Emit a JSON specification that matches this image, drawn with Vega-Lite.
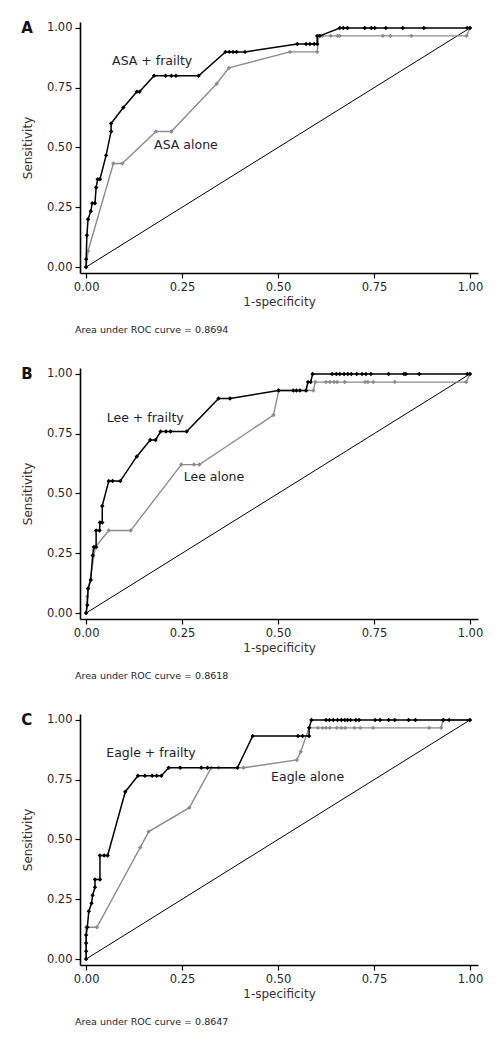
{
"$schema": "https://vega.github.io/schema/vega-lite/v6.json",
"background": "white",
"padding": {"left": 21, "top": 20, "right": 5, "bottom": 5},
"bounds": "flush",
"spacing": 95,
"config": {
  "font": "DejaVu Sans",
  "view": {"stroke": null},
  "axis": {"grid": false, "domainColor": "#000000", "domainWidth": 1.6, "tickColor": "#000000", "tickWidth": 1.2, "tickSize": 5, "labelFont": "DejaVu Sans", "labelFontSize": 11.5, "labelColor": "#262633", "labelPadding": 3, "titleFont": "DejaVu Sans", "titleFontSize": 12, "titleFontWeight": "normal", "titleColor": "#3a2f33"},
  "axisY": {"titlePadding": 12, "labelAngle": 0},
  "axisX": {"titlePadding": 4}
},
"datasets": {
  "roc": [
    {"panel":"A","curve":"frailty","x":0,"y":0},{"panel":"A","curve":"frailty","x":0,"y":0.033},{"panel":"A","curve":"frailty","x":0.002,"y":0.133},{"panel":"A","curve":"frailty","x":0.005,"y":0.2},{"panel":"A","curve":"frailty","x":0.012,"y":0.233},{"panel":"A","curve":"frailty","x":0.016,"y":0.267},{"panel":"A","curve":"frailty","x":0.023,"y":0.267},{"panel":"A","curve":"frailty","x":0.026,"y":0.333},{"panel":"A","curve":"frailty","x":0.03,"y":0.367},{"panel":"A","curve":"frailty","x":0.036,"y":0.367},{"panel":"A","curve":"frailty","x":0.052,"y":0.467},{"panel":"A","curve":"frailty","x":0.065,"y":0.567},{"panel":"A","curve":"frailty","x":0.065,"y":0.6},{"panel":"A","curve":"frailty","x":0.097,"y":0.667},{"panel":"A","curve":"frailty","x":0.132,"y":0.733},{"panel":"A","curve":"frailty","x":0.139,"y":0.733},{"panel":"A","curve":"frailty","x":0.177,"y":0.8},{"panel":"A","curve":"frailty","x":0.207,"y":0.8},{"panel":"A","curve":"frailty","x":0.222,"y":0.8},{"panel":"A","curve":"frailty","x":0.234,"y":0.8},{"panel":"A","curve":"frailty","x":0.293,"y":0.8},{"panel":"A","curve":"frailty","x":0.363,"y":0.9},{"panel":"A","curve":"frailty","x":0.373,"y":0.9},{"panel":"A","curve":"frailty","x":0.383,"y":0.9},{"panel":"A","curve":"frailty","x":0.392,"y":0.9},{"panel":"A","curve":"frailty","x":0.414,"y":0.9},{"panel":"A","curve":"frailty","x":0.55,"y":0.933},{"panel":"A","curve":"frailty","x":0.573,"y":0.933},{"panel":"A","curve":"frailty","x":0.583,"y":0.933},{"panel":"A","curve":"frailty","x":0.594,"y":0.933},{"panel":"A","curve":"frailty","x":0.602,"y":0.933},{"panel":"A","curve":"frailty","x":0.602,"y":0.967},{"panel":"A","curve":"frailty","x":0.609,"y":0.967},{"panel":"A","curve":"frailty","x":0.661,"y":1},{"panel":"A","curve":"frailty","x":0.67,"y":1},{"panel":"A","curve":"frailty","x":0.681,"y":1},{"panel":"A","curve":"frailty","x":0.726,"y":1},{"panel":"A","curve":"frailty","x":0.743,"y":1},{"panel":"A","curve":"frailty","x":0.752,"y":1},{"panel":"A","curve":"frailty","x":0.781,"y":1},{"panel":"A","curve":"frailty","x":0.825,"y":1},{"panel":"A","curve":"frailty","x":0.88,"y":1},{"panel":"A","curve":"frailty","x":0.993,"y":1},{"panel":"A","curve":"frailty","x":1,"y":1},
    {"panel":"A","curve":"alone","x":0,"y":0},{"panel":"A","curve":"alone","x":0.005,"y":0.067},{"panel":"A","curve":"alone","x":0.071,"y":0.433},{"panel":"A","curve":"alone","x":0.094,"y":0.433},{"panel":"A","curve":"alone","x":0.182,"y":0.567},{"panel":"A","curve":"alone","x":0.222,"y":0.567},{"panel":"A","curve":"alone","x":0.34,"y":0.767},{"panel":"A","curve":"alone","x":0.372,"y":0.833},{"panel":"A","curve":"alone","x":0.531,"y":0.9},{"panel":"A","curve":"alone","x":0.602,"y":0.9},{"panel":"A","curve":"alone","x":0.606,"y":0.967},{"panel":"A","curve":"alone","x":0.616,"y":0.967},{"panel":"A","curve":"alone","x":0.637,"y":0.967},{"panel":"A","curve":"alone","x":0.655,"y":0.967},{"panel":"A","curve":"alone","x":0.661,"y":0.967},{"panel":"A","curve":"alone","x":0.773,"y":0.967},{"panel":"A","curve":"alone","x":0.793,"y":0.967},{"panel":"A","curve":"alone","x":0.847,"y":0.967},{"panel":"A","curve":"alone","x":0.991,"y":0.967},{"panel":"A","curve":"alone","x":1,"y":1},
    {"panel":"B","curve":"frailty","x":0,"y":0},{"panel":"B","curve":"frailty","x":0.003,"y":0.034},{"panel":"B","curve":"frailty","x":0.005,"y":0.103},{"panel":"B","curve":"frailty","x":0.012,"y":0.138},{"panel":"B","curve":"frailty","x":0.017,"y":0.241},{"panel":"B","curve":"frailty","x":0.02,"y":0.276},{"panel":"B","curve":"frailty","x":0.026,"y":0.276},{"panel":"B","curve":"frailty","x":0.026,"y":0.345},{"panel":"B","curve":"frailty","x":0.035,"y":0.345},{"panel":"B","curve":"frailty","x":0.036,"y":0.379},{"panel":"B","curve":"frailty","x":0.042,"y":0.379},{"panel":"B","curve":"frailty","x":0.042,"y":0.448},{"panel":"B","curve":"frailty","x":0.059,"y":0.552},{"panel":"B","curve":"frailty","x":0.069,"y":0.552},{"panel":"B","curve":"frailty","x":0.089,"y":0.552},{"panel":"B","curve":"frailty","x":0.132,"y":0.655},{"panel":"B","curve":"frailty","x":0.167,"y":0.724},{"panel":"B","curve":"frailty","x":0.181,"y":0.724},{"panel":"B","curve":"frailty","x":0.194,"y":0.759},{"panel":"B","curve":"frailty","x":0.208,"y":0.759},{"panel":"B","curve":"frailty","x":0.22,"y":0.759},{"panel":"B","curve":"frailty","x":0.262,"y":0.759},{"panel":"B","curve":"frailty","x":0.345,"y":0.897},{"panel":"B","curve":"frailty","x":0.375,"y":0.897},{"panel":"B","curve":"frailty","x":0.501,"y":0.931},{"panel":"B","curve":"frailty","x":0.54,"y":0.931},{"panel":"B","curve":"frailty","x":0.548,"y":0.931},{"panel":"B","curve":"frailty","x":0.557,"y":0.931},{"panel":"B","curve":"frailty","x":0.573,"y":0.931},{"panel":"B","curve":"frailty","x":0.578,"y":0.966},{"panel":"B","curve":"frailty","x":0.585,"y":0.966},{"panel":"B","curve":"frailty","x":0.59,"y":1},{"panel":"B","curve":"frailty","x":0.641,"y":1},{"panel":"B","curve":"frailty","x":0.652,"y":1},{"panel":"B","curve":"frailty","x":0.661,"y":1},{"panel":"B","curve":"frailty","x":0.672,"y":1},{"panel":"B","curve":"frailty","x":0.682,"y":1},{"panel":"B","curve":"frailty","x":0.691,"y":1},{"panel":"B","curve":"frailty","x":0.705,"y":1},{"panel":"B","curve":"frailty","x":0.719,"y":1},{"panel":"B","curve":"frailty","x":0.729,"y":1},{"panel":"B","curve":"frailty","x":0.742,"y":1},{"panel":"B","curve":"frailty","x":0.788,"y":1},{"panel":"B","curve":"frailty","x":0.828,"y":1},{"panel":"B","curve":"frailty","x":0.833,"y":1},{"panel":"B","curve":"frailty","x":0.868,"y":1},{"panel":"B","curve":"frailty","x":0.993,"y":1},{"panel":"B","curve":"frailty","x":1,"y":1},
    {"panel":"B","curve":"alone","x":0,"y":0},{"panel":"B","curve":"alone","x":0.003,"y":0.069},{"panel":"B","curve":"alone","x":0.024,"y":0.276},{"panel":"B","curve":"alone","x":0.059,"y":0.345},{"panel":"B","curve":"alone","x":0.116,"y":0.345},{"panel":"B","curve":"alone","x":0.248,"y":0.621},{"panel":"B","curve":"alone","x":0.281,"y":0.621},{"panel":"B","curve":"alone","x":0.295,"y":0.621},{"panel":"B","curve":"alone","x":0.488,"y":0.828},{"panel":"B","curve":"alone","x":0.502,"y":0.931},{"panel":"B","curve":"alone","x":0.592,"y":0.931},{"panel":"B","curve":"alone","x":0.597,"y":0.966},{"panel":"B","curve":"alone","x":0.625,"y":0.966},{"panel":"B","curve":"alone","x":0.635,"y":0.966},{"panel":"B","curve":"alone","x":0.646,"y":0.966},{"panel":"B","curve":"alone","x":0.654,"y":0.966},{"panel":"B","curve":"alone","x":0.674,"y":0.966},{"panel":"B","curve":"alone","x":0.727,"y":0.966},{"panel":"B","curve":"alone","x":0.734,"y":0.966},{"panel":"B","curve":"alone","x":0.748,"y":0.966},{"panel":"B","curve":"alone","x":0.804,"y":0.966},{"panel":"B","curve":"alone","x":0.99,"y":0.966},{"panel":"B","curve":"alone","x":1,"y":1},
    {"panel":"C","curve":"frailty","x":0,"y":0},{"panel":"C","curve":"frailty","x":0,"y":0.033},{"panel":"C","curve":"frailty","x":0,"y":0.067},{"panel":"C","curve":"frailty","x":0,"y":0.1},{"panel":"C","curve":"frailty","x":0.003,"y":0.133},{"panel":"C","curve":"frailty","x":0.007,"y":0.2},{"panel":"C","curve":"frailty","x":0.014,"y":0.233},{"panel":"C","curve":"frailty","x":0.017,"y":0.267},{"panel":"C","curve":"frailty","x":0.023,"y":0.3},{"panel":"C","curve":"frailty","x":0.023,"y":0.333},{"panel":"C","curve":"frailty","x":0.036,"y":0.333},{"panel":"C","curve":"frailty","x":0.036,"y":0.433},{"panel":"C","curve":"frailty","x":0.047,"y":0.433},{"panel":"C","curve":"frailty","x":0.056,"y":0.433},{"panel":"C","curve":"frailty","x":0.102,"y":0.7},{"panel":"C","curve":"frailty","x":0.135,"y":0.767},{"panel":"C","curve":"frailty","x":0.153,"y":0.767},{"panel":"C","curve":"frailty","x":0.172,"y":0.767},{"panel":"C","curve":"frailty","x":0.184,"y":0.767},{"panel":"C","curve":"frailty","x":0.196,"y":0.767},{"panel":"C","curve":"frailty","x":0.215,"y":0.8},{"panel":"C","curve":"frailty","x":0.245,"y":0.8},{"panel":"C","curve":"frailty","x":0.3,"y":0.8},{"panel":"C","curve":"frailty","x":0.316,"y":0.8},{"panel":"C","curve":"frailty","x":0.394,"y":0.8},{"panel":"C","curve":"frailty","x":0.434,"y":0.933},{"panel":"C","curve":"frailty","x":0.552,"y":0.933},{"panel":"C","curve":"frailty","x":0.564,"y":0.933},{"panel":"C","curve":"frailty","x":0.581,"y":0.933},{"panel":"C","curve":"frailty","x":0.581,"y":0.967},{"panel":"C","curve":"frailty","x":0.587,"y":1},{"panel":"C","curve":"frailty","x":0.625,"y":1},{"panel":"C","curve":"frailty","x":0.634,"y":1},{"panel":"C","curve":"frailty","x":0.644,"y":1},{"panel":"C","curve":"frailty","x":0.655,"y":1},{"panel":"C","curve":"frailty","x":0.665,"y":1},{"panel":"C","curve":"frailty","x":0.674,"y":1},{"panel":"C","curve":"frailty","x":0.681,"y":1},{"panel":"C","curve":"frailty","x":0.689,"y":1},{"panel":"C","curve":"frailty","x":0.703,"y":1},{"panel":"C","curve":"frailty","x":0.711,"y":1},{"panel":"C","curve":"frailty","x":0.753,"y":1},{"panel":"C","curve":"frailty","x":0.766,"y":1},{"panel":"C","curve":"frailty","x":0.788,"y":1},{"panel":"C","curve":"frailty","x":0.804,"y":1},{"panel":"C","curve":"frailty","x":0.84,"y":1},{"panel":"C","curve":"frailty","x":0.858,"y":1},{"panel":"C","curve":"frailty","x":0.931,"y":1},{"panel":"C","curve":"frailty","x":0.946,"y":1},{"panel":"C","curve":"frailty","x":1,"y":1},
    {"panel":"C","curve":"alone","x":0,"y":0},{"panel":"C","curve":"alone","x":0,"y":0.133},{"panel":"C","curve":"alone","x":0.028,"y":0.133},{"panel":"C","curve":"alone","x":0.141,"y":0.467},{"panel":"C","curve":"alone","x":0.163,"y":0.533},{"panel":"C","curve":"alone","x":0.269,"y":0.633},{"panel":"C","curve":"alone","x":0.326,"y":0.8},{"panel":"C","curve":"alone","x":0.345,"y":0.8},{"panel":"C","curve":"alone","x":0.41,"y":0.8},{"panel":"C","curve":"alone","x":0.549,"y":0.833},{"panel":"C","curve":"alone","x":0.559,"y":0.867},{"panel":"C","curve":"alone","x":0.581,"y":0.967},{"panel":"C","curve":"alone","x":0.604,"y":0.967},{"panel":"C","curve":"alone","x":0.616,"y":0.967},{"panel":"C","curve":"alone","x":0.625,"y":0.967},{"panel":"C","curve":"alone","x":0.635,"y":0.967},{"panel":"C","curve":"alone","x":0.653,"y":0.967},{"panel":"C","curve":"alone","x":0.665,"y":0.967},{"panel":"C","curve":"alone","x":0.675,"y":0.967},{"panel":"C","curve":"alone","x":0.699,"y":0.967},{"panel":"C","curve":"alone","x":0.714,"y":0.967},{"panel":"C","curve":"alone","x":0.748,"y":0.967},{"panel":"C","curve":"alone","x":0.894,"y":0.967},{"panel":"C","curve":"alone","x":0.925,"y":0.967},{"panel":"C","curve":"alone","x":0.93,"y":1},{"panel":"C","curve":"alone","x":1,"y":1}
  ]
},
"vconcat": [
  {
    "width": 398, "height": 251,
    "layer": [
      {"data": {"values": [{"x":0,"y":0},{"x":1,"y":1}]}, "mark": {"type":"line","color":"#000000","strokeWidth":1},
       "encoding": {"x": {"field":"x","type":"quantitative","scale":{"domain":[-0.016,1.021],"nice":false,"zero":false},"axis":{"values":[0,0.25,0.5,0.75,1],"format":".2f","title":"1-specificity"}},
                    "y": {"field":"y","type":"quantitative","scale":{"domain":[-0.025,1.025],"nice":false,"zero":false},"axis":{"values":[0,0.25,0.5,0.75,1],"format":".2f","title":"Sensitivity"}}}},
      {"data": {"name":"roc"}, "transform":[{"filter":"datum.panel === 'A' && datum.curve === 'alone'"}],
       "mark": {"type":"line","color":"#8c8c8c","strokeWidth":1.4,"point":{"filled":true,"shape":"diamond","size":20,"color":"#8c8c8c"}},
       "encoding": {"x": {"field":"x","type":"quantitative","scale":{"domain":[-0.016,1.021],"nice":false,"zero":false},"axis":{"values":[0,0.25,0.5,0.75,1],"format":".2f","title":"1-specificity"}},
                    "y": {"field":"y","type":"quantitative","scale":{"domain":[-0.025,1.025],"nice":false,"zero":false},"axis":{"values":[0,0.25,0.5,0.75,1],"format":".2f","title":"Sensitivity"}},
                    "order": [{"field":"x","type":"quantitative"},{"field":"y","type":"quantitative"}]}},
      {"data": {"name":"roc"}, "transform":[{"filter":"datum.panel === 'A' && datum.curve === 'frailty'"}],
       "mark": {"type":"line","color":"#000000","strokeWidth":1.5,"point":{"filled":true,"shape":"diamond","size":20,"color":"#000000"}},
       "encoding": {"x": {"field":"x","type":"quantitative","scale":{"domain":[-0.016,1.021],"nice":false,"zero":false},"axis":{"values":[0,0.25,0.5,0.75,1],"format":".2f","title":"1-specificity"}},
                    "y": {"field":"y","type":"quantitative","scale":{"domain":[-0.025,1.025],"nice":false,"zero":false},"axis":{"values":[0,0.25,0.5,0.75,1],"format":".2f","title":"Sensitivity"}},
                    "order": [{"field":"x","type":"quantitative"},{"field":"y","type":"quantitative"}]}},
      {"data": {"values": [{"label":"ASA + frailty","x":0.172,"y":0.86},{"label":"ASA alone","x":0.26,"y":0.51}]},
       "mark": {"type":"text","fontSize":12.5,"color":"#222233","align":"center","baseline":"middle"},
       "encoding": {"x": {"field":"x","type":"quantitative","scale":{"domain":[-0.016,1.021],"nice":false,"zero":false},"axis":{"values":[0,0.25,0.5,0.75,1],"format":".2f","title":"1-specificity"}},
                    "y": {"field":"y","type":"quantitative","scale":{"domain":[-0.025,1.025],"nice":false,"zero":false},"axis":{"values":[0,0.25,0.5,0.75,1],"format":".2f","title":"Sensitivity"}},
                    "text": {"field":"label"}}},
      {"data": {"values": [{"label":"A","x":-0.169,"y":1.0}]},
       "mark": {"type":"text","fontSize":15,"fontWeight":"bold","color":"#111111","align":"left","baseline":"middle"},
       "encoding": {"x": {"field":"x","type":"quantitative","scale":{"domain":[-0.016,1.021],"nice":false,"zero":false},"axis":{"values":[0,0.25,0.5,0.75,1],"format":".2f","title":"1-specificity"}},
                    "y": {"field":"y","type":"quantitative","scale":{"domain":[-0.025,1.025],"nice":false,"zero":false},"axis":{"values":[0,0.25,0.5,0.75,1],"format":".2f","title":"Sensitivity"}},
                    "text": {"field":"label"}}},
      {"data": {"values": [{"label":"Area under ROC curve = 0.8694","x":-0.029,"y":-0.262}]},
       "mark": {"type":"text","fontSize":9.5,"color":"#222233","align":"left","baseline":"middle"},
       "encoding": {"x": {"field":"x","type":"quantitative","scale":{"domain":[-0.016,1.021],"nice":false,"zero":false},"axis":{"values":[0,0.25,0.5,0.75,1],"format":".2f","title":"1-specificity"}},
                    "y": {"field":"y","type":"quantitative","scale":{"domain":[-0.025,1.025],"nice":false,"zero":false},"axis":{"values":[0,0.25,0.5,0.75,1],"format":".2f","title":"Sensitivity"}},
                    "text": {"field":"label"}}}
    ]
  },
  {
    "width": 398, "height": 251,
    "layer": [
      {"data": {"values": [{"x":0,"y":0},{"x":1,"y":1}]}, "mark": {"type":"line","color":"#000000","strokeWidth":1},
       "encoding": {"x": {"field":"x","type":"quantitative","scale":{"domain":[-0.016,1.021],"nice":false,"zero":false},"axis":{"values":[0,0.25,0.5,0.75,1],"format":".2f","title":"1-specificity"}},
                    "y": {"field":"y","type":"quantitative","scale":{"domain":[-0.025,1.025],"nice":false,"zero":false},"axis":{"values":[0,0.25,0.5,0.75,1],"format":".2f","title":"Sensitivity"}}}},
      {"data": {"name":"roc"}, "transform":[{"filter":"datum.panel === 'B' && datum.curve === 'alone'"}],
       "mark": {"type":"line","color":"#8c8c8c","strokeWidth":1.4,"point":{"filled":true,"shape":"diamond","size":20,"color":"#8c8c8c"}},
       "encoding": {"x": {"field":"x","type":"quantitative","scale":{"domain":[-0.016,1.021],"nice":false,"zero":false},"axis":{"values":[0,0.25,0.5,0.75,1],"format":".2f","title":"1-specificity"}},
                    "y": {"field":"y","type":"quantitative","scale":{"domain":[-0.025,1.025],"nice":false,"zero":false},"axis":{"values":[0,0.25,0.5,0.75,1],"format":".2f","title":"Sensitivity"}},
                    "order": [{"field":"x","type":"quantitative"},{"field":"y","type":"quantitative"}]}},
      {"data": {"name":"roc"}, "transform":[{"filter":"datum.panel === 'B' && datum.curve === 'frailty'"}],
       "mark": {"type":"line","color":"#000000","strokeWidth":1.5,"point":{"filled":true,"shape":"diamond","size":20,"color":"#000000"}},
       "encoding": {"x": {"field":"x","type":"quantitative","scale":{"domain":[-0.016,1.021],"nice":false,"zero":false},"axis":{"values":[0,0.25,0.5,0.75,1],"format":".2f","title":"1-specificity"}},
                    "y": {"field":"y","type":"quantitative","scale":{"domain":[-0.025,1.025],"nice":false,"zero":false},"axis":{"values":[0,0.25,0.5,0.75,1],"format":".2f","title":"Sensitivity"}},
                    "order": [{"field":"x","type":"quantitative"},{"field":"y","type":"quantitative"}]}},
      {"data": {"values": [{"label":"Lee + frailty","x":0.154,"y":0.815},{"label":"Lee alone","x":0.333,"y":0.568}]},
       "mark": {"type":"text","fontSize":12.5,"color":"#222233","align":"center","baseline":"middle"},
       "encoding": {"x": {"field":"x","type":"quantitative","scale":{"domain":[-0.016,1.021],"nice":false,"zero":false},"axis":{"values":[0,0.25,0.5,0.75,1],"format":".2f","title":"1-specificity"}},
                    "y": {"field":"y","type":"quantitative","scale":{"domain":[-0.025,1.025],"nice":false,"zero":false},"axis":{"values":[0,0.25,0.5,0.75,1],"format":".2f","title":"Sensitivity"}},
                    "text": {"field":"label"}}},
      {"data": {"values": [{"label":"B","x":-0.169,"y":1.0}]},
       "mark": {"type":"text","fontSize":15,"fontWeight":"bold","color":"#111111","align":"left","baseline":"middle"},
       "encoding": {"x": {"field":"x","type":"quantitative","scale":{"domain":[-0.016,1.021],"nice":false,"zero":false},"axis":{"values":[0,0.25,0.5,0.75,1],"format":".2f","title":"1-specificity"}},
                    "y": {"field":"y","type":"quantitative","scale":{"domain":[-0.025,1.025],"nice":false,"zero":false},"axis":{"values":[0,0.25,0.5,0.75,1],"format":".2f","title":"Sensitivity"}},
                    "text": {"field":"label"}}},
      {"data": {"values": [{"label":"Area under ROC curve = 0.8618","x":-0.029,"y":-0.262}]},
       "mark": {"type":"text","fontSize":9.5,"color":"#222233","align":"left","baseline":"middle"},
       "encoding": {"x": {"field":"x","type":"quantitative","scale":{"domain":[-0.016,1.021],"nice":false,"zero":false},"axis":{"values":[0,0.25,0.5,0.75,1],"format":".2f","title":"1-specificity"}},
                    "y": {"field":"y","type":"quantitative","scale":{"domain":[-0.025,1.025],"nice":false,"zero":false},"axis":{"values":[0,0.25,0.5,0.75,1],"format":".2f","title":"Sensitivity"}},
                    "text": {"field":"label"}}}
    ]
  },
  {
    "width": 398, "height": 251,
    "layer": [
      {"data": {"values": [{"x":0,"y":0},{"x":1,"y":1}]}, "mark": {"type":"line","color":"#000000","strokeWidth":1},
       "encoding": {"x": {"field":"x","type":"quantitative","scale":{"domain":[-0.016,1.021],"nice":false,"zero":false},"axis":{"values":[0,0.25,0.5,0.75,1],"format":".2f","title":"1-specificity"}},
                    "y": {"field":"y","type":"quantitative","scale":{"domain":[-0.025,1.025],"nice":false,"zero":false},"axis":{"values":[0,0.25,0.5,0.75,1],"format":".2f","title":"Sensitivity"}}}},
      {"data": {"name":"roc"}, "transform":[{"filter":"datum.panel === 'C' && datum.curve === 'alone'"}],
       "mark": {"type":"line","color":"#8c8c8c","strokeWidth":1.4,"point":{"filled":true,"shape":"diamond","size":20,"color":"#8c8c8c"}},
       "encoding": {"x": {"field":"x","type":"quantitative","scale":{"domain":[-0.016,1.021],"nice":false,"zero":false},"axis":{"values":[0,0.25,0.5,0.75,1],"format":".2f","title":"1-specificity"}},
                    "y": {"field":"y","type":"quantitative","scale":{"domain":[-0.025,1.025],"nice":false,"zero":false},"axis":{"values":[0,0.25,0.5,0.75,1],"format":".2f","title":"Sensitivity"}},
                    "order": [{"field":"x","type":"quantitative"},{"field":"y","type":"quantitative"}]}},
      {"data": {"name":"roc"}, "transform":[{"filter":"datum.panel === 'C' && datum.curve === 'frailty'"}],
       "mark": {"type":"line","color":"#000000","strokeWidth":1.5,"point":{"filled":true,"shape":"diamond","size":20,"color":"#000000"}},
       "encoding": {"x": {"field":"x","type":"quantitative","scale":{"domain":[-0.016,1.021],"nice":false,"zero":false},"axis":{"values":[0,0.25,0.5,0.75,1],"format":".2f","title":"1-specificity"}},
                    "y": {"field":"y","type":"quantitative","scale":{"domain":[-0.025,1.025],"nice":false,"zero":false},"axis":{"values":[0,0.25,0.5,0.75,1],"format":".2f","title":"Sensitivity"}},
                    "order": [{"field":"x","type":"quantitative"},{"field":"y","type":"quantitative"}]}},
      {"data": {"values": [{"label":"Eagle + frailty","x":0.169,"y":0.863},{"label":"Eagle alone","x":0.577,"y":0.762}]},
       "mark": {"type":"text","fontSize":12.5,"color":"#222233","align":"center","baseline":"middle"},
       "encoding": {"x": {"field":"x","type":"quantitative","scale":{"domain":[-0.016,1.021],"nice":false,"zero":false},"axis":{"values":[0,0.25,0.5,0.75,1],"format":".2f","title":"1-specificity"}},
                    "y": {"field":"y","type":"quantitative","scale":{"domain":[-0.025,1.025],"nice":false,"zero":false},"axis":{"values":[0,0.25,0.5,0.75,1],"format":".2f","title":"Sensitivity"}},
                    "text": {"field":"label"}}},
      {"data": {"values": [{"label":"C","x":-0.169,"y":1.0}]},
       "mark": {"type":"text","fontSize":15,"fontWeight":"bold","color":"#111111","align":"left","baseline":"middle"},
       "encoding": {"x": {"field":"x","type":"quantitative","scale":{"domain":[-0.016,1.021],"nice":false,"zero":false},"axis":{"values":[0,0.25,0.5,0.75,1],"format":".2f","title":"1-specificity"}},
                    "y": {"field":"y","type":"quantitative","scale":{"domain":[-0.025,1.025],"nice":false,"zero":false},"axis":{"values":[0,0.25,0.5,0.75,1],"format":".2f","title":"Sensitivity"}},
                    "text": {"field":"label"}}},
      {"data": {"values": [{"label":"Area under ROC curve = 0.8647","x":-0.029,"y":-0.262}]},
       "mark": {"type":"text","fontSize":9.5,"color":"#222233","align":"left","baseline":"middle"},
       "encoding": {"x": {"field":"x","type":"quantitative","scale":{"domain":[-0.016,1.021],"nice":false,"zero":false},"axis":{"values":[0,0.25,0.5,0.75,1],"format":".2f","title":"1-specificity"}},
                    "y": {"field":"y","type":"quantitative","scale":{"domain":[-0.025,1.025],"nice":false,"zero":false},"axis":{"values":[0,0.25,0.5,0.75,1],"format":".2f","title":"Sensitivity"}},
                    "text": {"field":"label"}}}
    ]
  }
]
}
